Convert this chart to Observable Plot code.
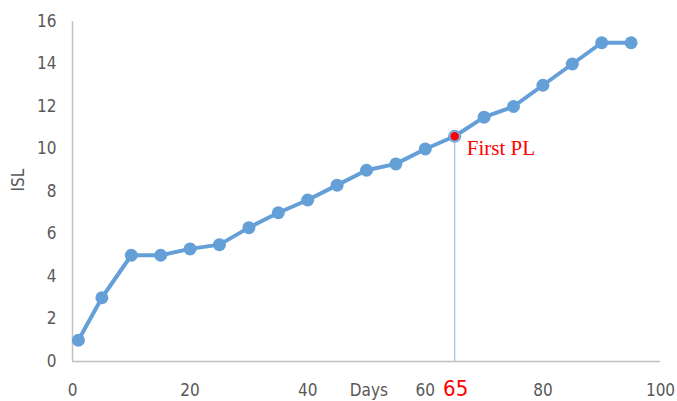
<!DOCTYPE html>
<html>
<head>
<meta charset="utf-8">
<script src="https://cdn.jsdelivr.net/npm/d3@7"></script>
<script src="https://cdn.jsdelivr.net/npm/@observablehq/plot@0.6"></script>
<style>
  html, body { margin: 0; padding: 0; background: #fff; }
</style>
</head>
<body>
<div id="chart"></div>
<script>
const days = [1, 5, 10, 15, 20, 25, 30, 35, 40, 45, 50, 55, 60, 65, 70, 75, 80, 85, 90, 95];
const isl  = [1, 3, 5, 5, 5.3, 5.5, 6.3, 7, 7.6, 8.3, 9, 9.3, 10, 10.6, 11.5, 12, 13, 14, 15, 15];
const xTicks = [0, 20, 40, 60, 80, 100];
const yTicks = [0, 2, 4, 6, 8, 10, 12, 14, 16];
const firstPLIndex = 13;
const firstPLLabel = "First PL";
const xLabel = "Days";
const yLabel = "ISL";

const data = days.map((d, i) => ({day: d, isl: isl[i]}));
const pl = [data[firstPLIndex]];

const blue = "#659fd8";
const gray = "#595959";
const axisGray = "#c0c0c0";
const sansNarrow = "'Liberation Sans Narrow', 'DejaVu Sans Condensed', sans-serif";

const chart = Plot.plot({
  width: 677,
  height: 401,
  marginLeft: 72,
  marginRight: 17,
  marginTop: 21,
  marginBottom: 40,
  style: {fontFamily: sansNarrow, background: "#fff"},
  x: {domain: [0, 100]},
  y: {domain: [0, 16]},
  marks: [
    Plot.ruleY([0], {stroke: axisGray, strokeWidth: 1.5}),
    Plot.ruleX([0], {stroke: axisGray, strokeWidth: 1.5}),
    Plot.axisY({ticks: yTicks, tickSize: 0, tickPadding: 16, fontSize: 17, color: gray, label: null}),
    Plot.axisX({ticks: xTicks, tickSize: 0, tickPadding: 22, fontSize: 17, color: gray, label: null}),
    Plot.ruleX(pl, {x: "day", y1: 0, y2: "isl", stroke: "#9dc3e6", strokeWidth: 1.2}),
    Plot.line(data, {x: "day", y: "isl", stroke: blue, strokeWidth: 4}),
    Plot.dot(data, {x: "day", y: "isl", r: 6.5, fill: blue, stroke: "none"}),
    Plot.dot(pl, {x: "day", y: "isl", r: 5, fill: "#ff0000", stroke: "#7fb0e0", strokeWidth: 1.5}),
    Plot.text(pl, {x: "day", y: "isl", text: () => firstPLLabel, dx: 12, dy: 12, textAnchor: "start",
      fill: "#ff0000", fontSize: 21, fontFamily: "'Liberation Serif', 'DejaVu Serif', serif"}),
    Plot.text(pl, {x: "day", y: 0, text: d => String(d.day), dy: 27, dx: 1,
      fill: "#ff0000", fontSize: 22, fontFamily: sansNarrow}),
    Plot.text([xLabel], {x: 50.4, y: 0, text: d => d, dy: 29, fill: gray, fontSize: 17}),
    Plot.text([yLabel], {frameAnchor: "left", y: 8, text: d => d, dx: -54, rotate: -90, fill: gray, fontSize: 17})
  ]
});
document.getElementById("chart").appendChild(chart);
</script>
</body>
</html>
